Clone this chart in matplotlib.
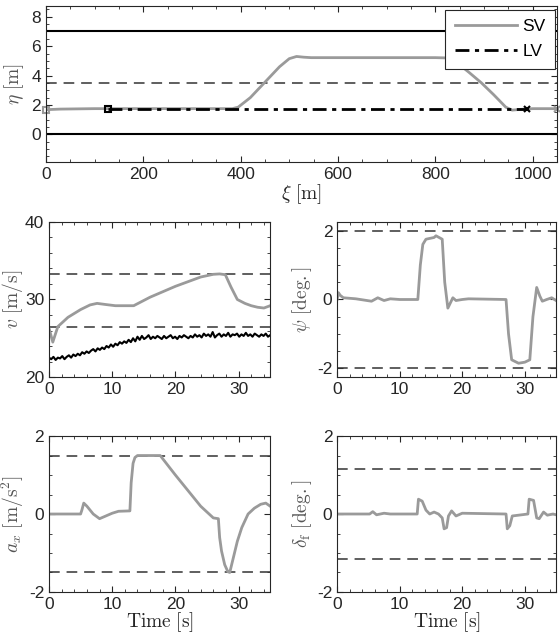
import matplotlib
matplotlib.use("Agg")
import matplotlib.pyplot as plt
from matplotlib.ticker import AutoMinorLocator, MultipleLocator

plt.rcParams["font.family"] = ["Liberation Sans", "DejaVu Sans"]
plt.rcParams["mathtext.fontset"] = "cm"

GRAY = "#9a9a9a"
AX_COLOR = "#262626"
LABEL_COLOR = "#555555"

# --- top panel: trajectories in road coordinates ---
sv_xi = [0, 30, 100, 200, 300, 383, 395, 420, 450, 480, 500, 515, 530, 545, 600, 700,
         800, 825, 840, 870, 895, 920, 945, 958, 975, 1000, 1050]
sv_eta = [1.68, 1.72, 1.75, 1.75, 1.75, 1.75, 1.85, 2.5, 3.55, 4.6, 5.15, 5.3, 5.25, 5.22,
          5.22, 5.22, 5.22, 5.2, 5.0, 4.2, 3.5, 2.7, 1.85, 1.65, 1.7, 1.75, 1.75]
lv_xi = [128, 988]
lv_eta = [1.75, 1.75]
road_edges = [0.0, 7.0]
lane_marking = 3.5

# --- time series ---
t_v = [0, 0.6, 1.4, 3, 5, 6.5, 7.6, 9, 10.5, 12, 13.4, 16, 20, 24, 26, 27, 27.9, 28.8,
       29.8, 31, 32, 33, 34, 35]
v_sv = [26.3, 24.5, 26.5, 27.7, 28.7, 29.3, 29.5, 29.35, 29.2, 29.2, 29.2, 30.3, 31.7,
        32.9, 33.25, 33.3, 33.2, 31.6, 30.0, 29.5, 29.2, 29.0, 28.9, 29.2]
t_lv = [i * 0.35 for i in range(101)]
v_lv = [22.5, 22.3, 22.6, 22.2, 22.5, 22.4, 22.7, 22.3, 22.6, 22.8, 22.5, 22.9, 22.7, 23.0,
        22.8, 23.2, 23.0, 23.3, 23.1, 23.4, 23.6, 23.3, 23.7, 23.5, 23.8, 23.6, 24.0, 23.8,
        24.2, 23.9, 24.3, 24.1, 24.5, 24.3, 24.6, 24.4, 24.8, 24.5, 25.0, 24.6, 25.2, 24.8,
        25.3, 24.9, 25.1, 25.4, 24.9, 25.2, 25.0, 25.3, 25.1, 24.9, 25.3, 25.0, 25.2, 25.4,
        25.0, 25.2, 24.9, 25.3, 25.1, 25.4, 25.2, 25.0, 25.3, 25.1, 25.5, 25.2, 25.4, 25.1,
        25.6, 25.3, 25.5, 25.2, 25.8, 25.1, 25.4, 25.6, 25.2, 25.5, 25.3, 25.7, 25.2, 25.5,
        25.4, 25.6, 25.2, 25.5, 25.3, 25.7, 25.3, 25.5, 25.2, 25.6, 25.4, 25.2, 25.5, 25.3,
        25.6, 25.2, 25.4]
v_bounds = [26.4, 33.3]

t_psi = [0, 0.2, 0.5, 1, 3, 5.5, 6.5, 7.5, 8.5, 10, 12.9, 13.3, 13.7, 14.2, 15.5, 15.8,
         16.8, 17.2, 17.7, 18.5, 19, 20, 21, 27, 27.4, 27.9, 29, 30, 30.8, 31.3, 31.9, 32.4,
         32.8, 33.5, 34.3, 35]
psi = [0, 0.2, 0.12, 0.05, 0.02, -0.05, 0.05, -0.03, 0.02, 0, 0, 1.0, 1.6, 1.75, 1.8, 1.85,
       1.75, 0.5, -0.25, 0.05, -0.03, 0, 0.02, 0, -1.0, -1.75, -1.85, -1.82, -1.75, -0.5,
       0.35, 0.1, -0.05, 0.0, 0.05, -0.03]
psi_bounds = [-2.0, 2.0]

t_ax = [0, 5, 5.2, 5.5, 6, 7, 8, 9, 10, 11, 12.8, 13.0, 13.3, 13.6, 14, 14.5, 17.6, 20,
        22, 24, 25, 26, 26.8, 27.0, 27.3, 27.8, 28.3, 28.6, 29.2, 29.8, 30.5, 31.5, 32.5,
        33.5, 34.3, 35]
ax_sv = [0, 0, 0.1, 0.28, 0.2, 0, -0.12, -0.05, 0.02, 0.07, 0.08, 0.8, 1.3, 1.45, 1.5, 1.5,
         1.5, 1.0, 0.6, 0.2, 0.05, -0.1, -0.12, -0.6, -0.95, -1.3, -1.48, -1.5, -1.1, -0.7,
         -0.35, 0.0, 0.15, 0.25, 0.28, 0.2]
ax_bounds = [-1.5, 1.5]

t_df = [0, 5.2, 5.7, 6.3, 7.5, 8.5, 12.8, 13.0, 13.6, 14.2, 14.8, 15.5, 16.2, 16.8, 17.1,
        17.5, 17.8, 18.3, 19, 20, 27.0, 27.2, 27.6, 28.0, 29, 30.5, 30.7, 31.4, 31.9, 32.3,
        33, 33.6, 34.5, 35]
delta_f = [0, 0, 0.06, -0.02, 0.02, 0, 0, 0.38, 0.33, 0.1, 0.0, 0.05, 0, -0.1, -0.38, -0.35,
           -0.05, 0.08, -0.05, 0.02, 0, -0.38, -0.3, -0.05, -0.03, 0, 0.38, 0.35, -0.1,
           -0.12, 0.05, -0.03, 0.0, -0.02]
df_bounds = [-1.146, 1.146]

TICK_FS = 12.5
LABEL_FS = 14


def style_axes(ax):
    for s in ax.spines.values():
        s.set_color(AX_COLOR)
        s.set_linewidth(0.8)
    ax.tick_params(which="both", direction="in", top=True, right=True, colors=AX_COLOR,
                   labelsize=TICK_FS, labelcolor=AX_COLOR)
    ax.tick_params(which="major", length=4, width=0.8)
    ax.tick_params(which="minor", length=2, width=0.6)
    ax.xaxis.set_minor_locator(AutoMinorLocator())
    ax.yaxis.set_minor_locator(AutoMinorLocator())


def hlines(ax, values):
    for val in values:
        ax.axhline(val, color="#333333", ls="--", lw=1.1, dashes=(7, 4.5))


fig = plt.figure(figsize=(5.6, 6.39), dpi=100)

# top
ax0 = fig.add_axes([0.082, 0.746, 0.9125, 0.245])
style_axes(ax0)
for e in road_edges:
    ax0.axhline(e, color="black", lw=1.5)
ax0.axhline(lane_marking, color="#333333", lw=1.1, ls="--", dashes=(7, 4.5))
ax0.plot(sv_xi, sv_eta, color=GRAY, lw=2, label="SV")
ax0.plot(sv_xi[0], sv_eta[0], marker="s", ms=5, mfc="none", mec=GRAY, mew=1.5, clip_on=False)
ax0.plot(sv_xi[-1], sv_eta[-1], marker="x", ms=5, color=GRAY, mew=1.5, clip_on=False)
ax0.plot(lv_xi, lv_eta, color="black", lw=2, ls="-.", dashes=(5, 2, 1.5, 2), label="LV")
ax0.plot(lv_xi[0], lv_eta[0], marker="s", ms=5, mfc="none", mec="black", mew=1.5)
ax0.plot(lv_xi[-1], lv_eta[-1], marker="x", ms=5, color="black", mew=1.5)
ax0.set_xlim(0, 1050)
ax0.set_ylim(-1.9, 8.75)
ax0.set_yticks([0, 2, 4, 6, 8])
ax0.xaxis.set_minor_locator(MultipleLocator(50))
ax0.yaxis.set_minor_locator(MultipleLocator(0.5))
ax0.set_xlabel(r"$\xi\ [\mathrm{m}]$", fontsize=LABEL_FS, color=AX_COLOR, labelpad=0)
ax0.set_ylabel(r"$\eta\ [\mathrm{m}]$", fontsize=LABEL_FS, color=LABEL_COLOR, labelpad=4)
leg = ax0.legend(loc="upper right", bbox_to_anchor=(0.997, 0.975), fontsize=12.5,
                 handlelength=3.6, handletextpad=0.3, fancybox=False, framealpha=1,
                 borderpad=0.55, labelspacing=0.55, borderaxespad=0)
leg.get_frame().set_edgecolor(AX_COLOR)
leg.get_frame().set_linewidth(0.8)

# middle left: speed
ax1 = fig.add_axes([0.0875, 0.41, 0.395, 0.2426])
style_axes(ax1)
hlines(ax1, v_bounds)
ax1.plot(t_lv, v_lv, color="black", lw=1.5)
ax1.plot(t_v, v_sv, color=GRAY, lw=2)
ax1.set_xlim(0, 35)
ax1.set_ylim(20, 40)
ax1.set_yticks([20, 30, 40])
ax1.set_xticks([0, 10, 20, 30])
ax1.set_ylabel(r"$v\ [\mathrm{m/s}]$", fontsize=LABEL_FS, color=LABEL_COLOR, labelpad=0)

# middle right: heading
ax2 = fig.add_axes([0.602, 0.41, 0.391, 0.2426])
style_axes(ax2)
hlines(ax2, psi_bounds)
ax2.plot(t_psi, psi, color=GRAY, lw=2)
ax2.set_xlim(0, 35)
ax2.set_ylim(-2.25, 2.25)
ax2.set_yticks([-2, 0, 2])
ax2.set_yticklabels(["-2", "0", "2"])
ax2.set_xticks([0, 10, 20, 30])
ax2.set_ylabel(r"$\psi\ [\mathrm{deg.}]$", fontsize=LABEL_FS, color=LABEL_COLOR, labelpad=2)

# bottom left: acceleration
ax3 = fig.add_axes([0.0875, 0.0736, 0.395, 0.244])
style_axes(ax3)
hlines(ax3, ax_bounds)
ax3.plot(t_ax, ax_sv, color=GRAY, lw=2)
ax3.set_xlim(0, 35)
ax3.set_ylim(-2, 2)
ax3.set_yticks([-2, 0, 2])
ax3.set_yticklabels(["-2", "0", "2"])
ax3.set_xticks([0, 10, 20, 30])
ax3.set_xlabel(r"$\mathrm{Time\ [s]}$", fontsize=LABEL_FS, color=AX_COLOR, labelpad=-1)
ax3.set_ylabel(r"$a_x\ [\mathrm{m/s^2}]$", fontsize=LABEL_FS, color=LABEL_COLOR, labelpad=2)

# bottom right: steering
ax4 = fig.add_axes([0.602, 0.0736, 0.391, 0.244])
style_axes(ax4)
hlines(ax4, df_bounds)
ax4.plot(t_df, delta_f, color=GRAY, lw=2)
ax4.set_xlim(0, 35)
ax4.set_ylim(-2, 2)
ax4.set_yticks([-2, 0, 2])
ax4.set_yticklabels(["-2", "0", "2"])
ax4.set_xticks([0, 10, 20, 30])
ax4.set_xlabel(r"$\mathrm{Time\ [s]}$", fontsize=LABEL_FS, color=AX_COLOR, labelpad=-1)
ax4.set_ylabel(r"$\delta_\mathrm{f}\ [\mathrm{deg.}]$", fontsize=LABEL_FS, color=LABEL_COLOR,
               labelpad=2)

fig.savefig("out.png", dpi=100)
plt.close(fig)
